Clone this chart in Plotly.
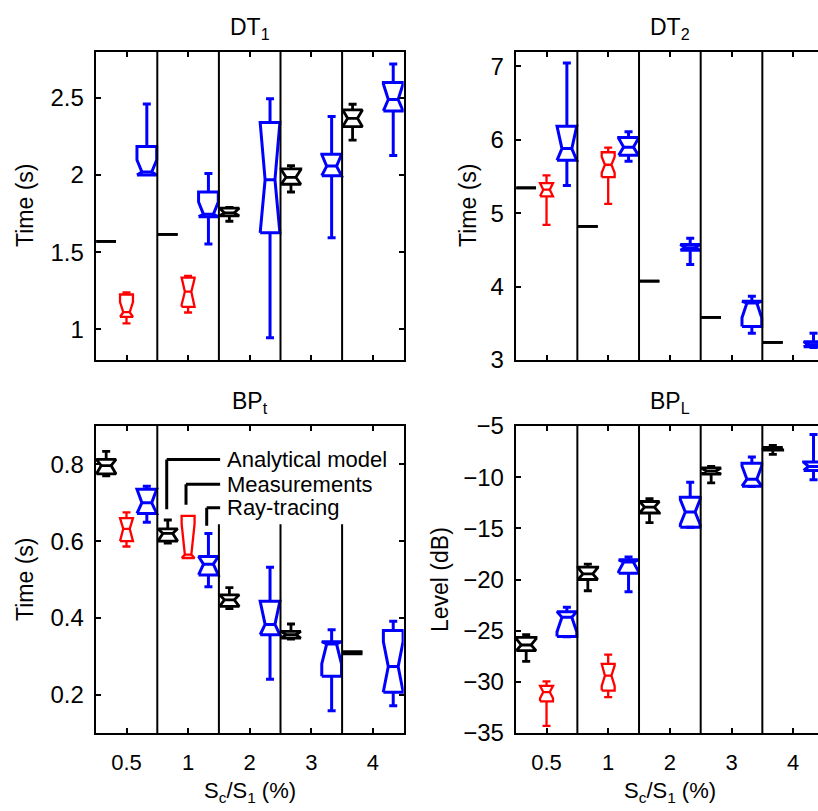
import plotly.graph_objects as go

groups = ['0.5', '1', '2', '3', '4']

# one tuple per group: (lower whisker, q1, median, q3, upper whisker, notch half-span)
dt1_model = [(1.57, 1.57, 1.57, 1.57, 1.57, 0), (1.615, 1.615, 1.615, 1.615, 1.615, 0),
             (1.70, 1.735, 1.755, 1.785, 1.79, 0.03), (1.89, 1.94, 1.985, 2.04, 2.06, 0.05),
             (2.227, 2.314, 2.368, 2.422, 2.459, 0.054)]
dt1_meas = [(1.037, 1.08, 1.11, 1.225, 1.238, 0.066), (1.108, 1.145, 1.243, 1.335, 1.346, 0.085)]
dt1_ray = [(2.0, 2.0, 2.02, 2.185, 2.46, 0.077), (1.552, 1.73, 1.745, 1.89, 2.01, 0.08),
           (0.945, 1.625, 1.97, 2.34, 2.495, 0.4), (1.593, 1.996, 2.058, 2.134, 2.38, 0.075),
           (2.126, 2.416, 2.49, 2.60, 2.72, 0.1)]

dt2_model = [(5.345,) * 5 + (0,), (4.82,) * 5 + (0,), (4.075,) * 5 + (0,),
             (3.58,) * 5 + (0,), (3.24,) * 5 + (0,)]
dt2_meas = [(4.84, 5.23, 5.32, 5.41, 5.515, 0.09), (5.126, 5.49, 5.66, 5.83, 5.894, 0.11)]
dt2_ray = [(5.377, 5.72, 5.88, 6.186, 7.046, 0.31), (5.706, 5.79, 5.90, 6.03, 6.11, 0.12),
           (4.30, 4.495, 4.53, 4.575, 4.66, 0.05), (3.366, 3.457, 3.776, 3.80, 3.868, 0.2),
           (3.17, 3.18, 3.21, 3.25, 3.365, 0.04)]

bpt_model = [(0.77, 0.775, 0.797, 0.813, 0.834, 0.03), (0.595, 0.60, 0.62, 0.632, 0.655, 0.02),
             (0.424, 0.43, 0.447, 0.46, 0.479, 0.02), (0.345, 0.347, 0.356, 0.365, 0.384, 0.01),
             (0.306, 0.306, 0.309, 0.312, 0.312, 0.003)]
bpt_meas = [(0.586, 0.60, 0.632, 0.66, 0.675, 0.035), (0.556, 0.556, 0.565, 0.666, 0.666, 0.08)]
bpt_ray = [(0.649, 0.672, 0.70, 0.735, 0.743, 0.04), (0.481, 0.512, 0.54, 0.56, 0.62, 0.03),
           (0.24, 0.356, 0.383, 0.443, 0.532, 0.06), (0.158, 0.248, 0.332, 0.338, 0.369, 0.052),
           (0.171, 0.206, 0.273, 0.367, 0.391, 0.065)]

bpl_model = [(-28.0, -26.95, -26.4, -25.65, -25.4, 0.6), (-21.1, -20.0, -19.45, -18.8, -18.5, 0.6),
             (-14.45, -13.5, -12.93, -12.38, -12.1, 0.55), (-10.55, -9.7, -9.4, -9.1, -8.95, 0.3),
             (-7.78, -7.35, -7.2, -7.1, -6.9, 0.1)]
bpl_meas = [(-34.3, -31.9, -31.0, -30.4, -29.95, 0.6), (-31.5, -30.85, -29.4, -28.25, -27.35, 1.0)]
bpl_ray = [(-25.6, -25.58, -23.7, -23.14, -22.7, 1.4), (-21.2, -19.4, -18.3, -18.08, -17.8, 0.9),
           (-14.9, -14.89, -13.4, -11.96, -10.5, 1.2), (-10.9, -10.88, -10.2, -8.63, -8.04, 1.3),
           (-10.26, -9.35, -8.95, -8.53, -5.83, 0.4)]

FONT = 'Liberation Sans, Arial, sans-serif'


def notched_boxes(stats, offset, width, cap=0.13):
    # matlab style notched box outline, notch clipped to the box
    xs, ys = [], []
    for i, (lo, q1, med, q3, hi, ns) in enumerate(stats):
        p = i + 1 + offset
        l, r = p - width / 2, p + width / 2
        ml, mr = p - width / 4, p + width / 4
        un = min(med + ns, q3)
        ln = max(med - ns, q1)
        if ns == 0:
            ml, mr = l, r
        xs += [l, l, ml, l, l, r, r, mr, r, r, l, None, ml, mr, None]
        ys += [q1, ln, med, un, q3, q3, un, med, ln, q1, q1, None, med, med, None]
        if hi > q3:
            xs += [p, p, None, p - cap / 2, p + cap / 2, None]
            ys += [q3, hi, None, hi, hi, None]
        if lo < q1:
            xs += [p, p, None, p - cap / 2, p + cap / 2, None]
            ys += [q1, lo, None, lo, lo, None]
    return xs, ys


panels = [
    ('x', 'y', dt1_model, dt1_meas, dt1_ray),
    ('x2', 'y2', dt2_model, dt2_meas, dt2_ray),
    ('x3', 'y3', bpt_model, bpt_meas, bpt_ray),
    ('x4', 'y4', bpl_model, bpl_meas, bpl_ray),
]

fig = go.Figure()
for xa, ya, model, meas, ray in panels:
    for stats, off, w, col, lw in [(model, -0.33, 0.32, 'black', 2.8),
                                   (meas, 0.0, 0.21, 'red', 2.3),
                                   (ray, 0.33, 0.32, 'blue', 3)]:
        xs, ys = notched_boxes(stats, off, w)
        fig.add_trace(go.Scatter(x=xs, y=ys, xaxis=xa, yaxis=ya, mode='lines',
                                 line=dict(color=col, width=lw), showlegend=False,
                                 hoverinfo='skip'))

W, H = 818, 811
xl = [95.7 / W, 403.7 / W]
xr = [515.7 / W, 1.0]
yt = [1 - 360 / H, 1 - 51.7 / H]
yb = [1 - 733 / H, 1 - 426 / H]


def xax(dom, anchor, rng, labels):
    return dict(domain=dom, anchor=anchor, range=rng, tickvals=[1, 2, 3, 4, 5], ticktext=groups,
                showticklabels=labels, showline=True, linecolor='black', linewidth=2,
                mirror='ticks', ticks='inside', ticklen=5, tickwidth=1.5, tickcolor='black',
                showgrid=False, zeroline=False, ticklabelstandoff=9, automargin=False,
                tickfont=dict(family=FONT, size=22, color='black'))


def yax(dom, anchor, rng, vals, mirror):
    return dict(domain=dom, anchor=anchor, range=rng, tickvals=vals,
                showline=True, linecolor='black', linewidth=2, mirror=mirror,
                ticks='inside', ticklen=5, tickwidth=1.5, tickcolor='black',
                showgrid=False, zeroline=False, ticklabelstandoff=5, automargin=False,
                tickfont=dict(family=FONT, size=24, color='black'))


xr_end = 0.5 + (W - 515.7) / 61.66
fig.update_layout(
    template='none',
    width=W, height=H, autosize=False, margin=dict(l=0, r=0, t=0, b=0, pad=0),
    paper_bgcolor='white', plot_bgcolor='white',
    font=dict(family=FONT, color='black'),
    xaxis=xax(xl, 'y', [0.5, 5.5], False),
    yaxis=yax(yt, 'x', [0.8, 2.8], [1, 1.5, 2, 2.5], 'ticks'),
    xaxis2=xax(xr, 'y2', [0.5, xr_end], False),
    yaxis2=yax(yt, 'x2', [3, 7.2], [3, 4, 5, 6, 7], False),
    xaxis3=xax(xl, 'y3', [0.5, 5.5], True),
    yaxis3=yax(yb, 'x3', [0.1, 0.9], [0.2, 0.4, 0.6, 0.8], 'ticks'),
    xaxis4=xax(xr, 'y4', [0.5, xr_end], True),
    yaxis4=yax(yb, 'x4', [-35, -5], [-35, -30, -25, -20, -15, -10, -5], False),
)

# group separators
shapes = []
for xa, ya in [('x', 'y'), ('x2', 'y2'), ('x3', 'y3'), ('x4', 'y4')]:
    for b in [1.5, 2.5, 3.5, 4.5]:
        if xa == 'x3' and b > 2:
            shapes.append(dict(type='line', xref=xa, yref=ya, x0=b, x1=b, y0=0.1, y1=0.644,
                               line=dict(color='black', width=2)))
        else:
            shapes.append(dict(type='line', xref=xa, yref=ya + ' domain', x0=b, x1=b, y0=0, y1=1,
                               line=dict(color='black', width=2)))

# legend brackets in the BPt panel
legend_items = ['Analytical model', 'Measurements', 'Ray-tracing']
bracket_x = [1.653, 1.966, 2.302]
bracket_top = [0.813, 0.748, 0.687]
bracket_bottom = [0.683, 0.695, 0.64]
annotations = []
for name, bx, t, b in zip(legend_items, bracket_x, bracket_top, bracket_bottom):
    shapes.append(dict(type='line', xref='x3', yref='y3', x0=bx, x1=bx, y0=b, y1=t,
                       line=dict(color='black', width=3)))
    shapes.append(dict(type='line', xref='x3', yref='y3', x0=bx, x1=2.52, y0=t, y1=t,
                       line=dict(color='black', width=3)))
    annotations.append(dict(text=name, xref='x3', yref='y3', x=2.6, y=t, xanchor='left',
                            yanchor='middle', showarrow=False,
                            font=dict(family=FONT, size=22, color='black')))

lab = dict(family=FONT, size=23, color='black')
cx_l, cx_r = 249.7 / W, 670 / W
for txt, x, y in [('DT<sub>1</sub>', cx_l, 28), ('DT<sub>2</sub>', cx_r, 28),
                  ('BP<sub>t</sub>', cx_l, 403), ('BP<sub>L</sub>', cx_r, 403)]:
    annotations.append(dict(text=txt, xref='paper', yref='paper', x=x, y=1 - y / H,
                            xanchor='center', yanchor='middle', showarrow=False, font=lab))
for txt, x, y in [('Time (s)', 25, 206), ('Time (s)', 468, 206),
                  ('Time (s)', 25, 580), ('Level (dB)', 440, 580)]:
    annotations.append(dict(text=txt, xref='paper', yref='paper', x=x / W, y=1 - y / H,
                            textangle=-90, xanchor='center', yanchor='middle',
                            showarrow=False, font=lab))
for x in [cx_l, cx_r]:
    annotations.append(dict(text='S<sub>c</sub>/S<sub>1</sub> (%)', xref='paper', yref='paper',
                            x=x, y=1 - 792 / H, xanchor='center', yanchor='middle',
                            showarrow=False, font=dict(family=FONT, size=22, color='black')))

fig.update_layout(shapes=shapes, annotations=annotations)
fig.write_html('out.html', config={'displayModeBar': False},
               post_script="document.body.style.margin='0px';")
